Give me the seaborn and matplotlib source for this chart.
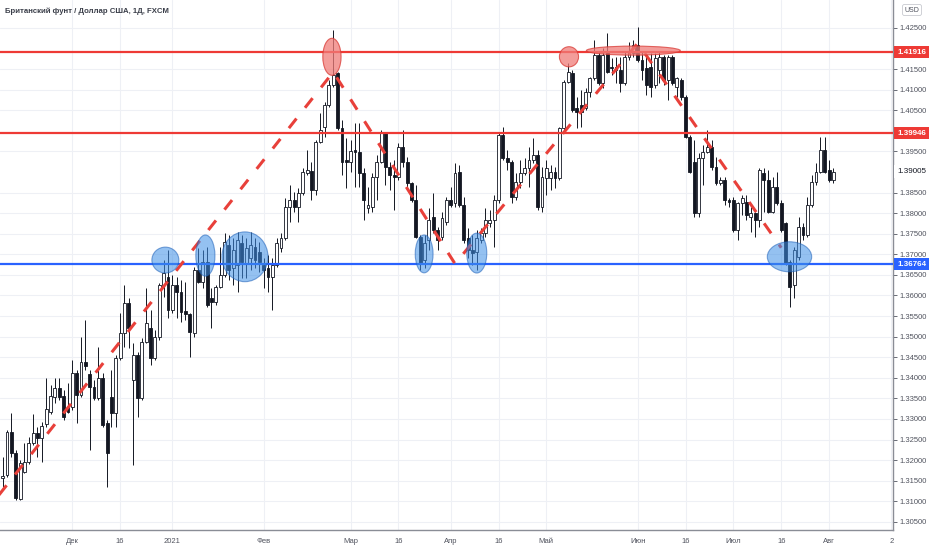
import numpy as np
import pandas as pd
import matplotlib
matplotlib.use("Agg")
import matplotlib.pyplot as plt
import matplotlib.transforms as mtransforms
from matplotlib.patches import Ellipse
import seaborn as sns

# --- data (GBP/USD daily, FXCM) ---
title = "Британский фунт / Доллар США, 1Д, FXCM"
start_date = "2020-11-09"

opens = [
    1.3157, 1.3164, 1.3268, 1.3217, 1.3105, 1.3171, 1.3195, 1.3242, 1.3266, 1.3254, 1.3288, 1.3317,
    1.3353, 1.3375, 1.3356, 1.3329, 1.3329, 1.3412, 1.3358, 1.3438, 1.3409, 1.3378, 1.3351, 1.3399,
    1.3290, 1.3353, 1.3314, 1.3448, 1.3509, 1.3582, 1.3395, 1.3455, 1.3351, 1.3487, 1.3521, 1.3448,
    1.3499, 1.3625, 1.3645, 1.3565, 1.3625, 1.3608, 1.3562, 1.3555, 1.3509, 1.3662, 1.3633, 1.3681,
    1.3594, 1.3584, 1.3621, 1.3650, 1.3723, 1.3667, 1.3674, 1.3728, 1.3679, 1.3691, 1.3718, 1.3706,
    1.3674, 1.3667, 1.3645, 1.3674, 1.3715, 1.3740, 1.3815, 1.3832, 1.3815, 1.3849, 1.3898, 1.3902,
    1.3856, 1.3973, 1.4009, 1.4063, 1.4111, 1.4141, 1.4007, 1.3929, 1.3924, 1.3953, 1.3949, 1.3898,
    1.3813, 1.3815, 1.3888, 1.3924, 1.3995, 1.3912, 1.3893, 1.3888, 1.3961, 1.3924, 1.3873, 1.3832,
    1.3742, 1.3686, 1.3735, 1.3791, 1.3759, 1.3742, 1.3779, 1.3832, 1.3825, 1.3900, 1.3820, 1.3740,
    1.3711, 1.3706, 1.3735, 1.3752, 1.3776, 1.3783, 1.3832, 1.3990, 1.3934, 1.3924, 1.3839, 1.3876,
    1.3898, 1.3910, 1.3929, 1.3941, 1.3815, 1.3885, 1.3885, 1.3900, 1.3885, 1.4007, 1.4119, 1.4141,
    1.4056, 1.4063, 1.4056, 1.4094, 1.4128, 1.4184, 1.4116, 1.4192, 1.4155, 1.4155, 1.4148, 1.4116,
    1.4179, 1.4189, 1.4209, 1.4172, 1.4153, 1.4155, 1.4111, 1.4148, 1.4179, 1.4124, 1.4179, 1.4107,
    1.4124, 1.4082, 1.3985, 1.3924, 1.3800, 1.3934, 1.3949, 1.3961, 1.3912, 1.3873, 1.3881, 1.3832,
    1.3832, 1.3759, 1.3825, 1.3827, 1.3791, 1.3800, 1.3783, 1.3898, 1.3881, 1.3803, 1.3864, 1.3825,
    1.3776, 1.3681, 1.3625, 1.3694, 1.3766, 1.3747, 1.3820, 1.3876, 1.3900, 1.3954, 1.3905, 1.3881,
]
highs = [
    1.3207, 1.3273, 1.3314, 1.3225, 1.3200, 1.3242, 1.3256, 1.3312, 1.3280, 1.3293, 1.3399, 1.3382,
    1.3399, 1.3399, 1.3370, 1.3387, 1.3443, 1.3419, 1.3499, 1.3540, 1.3419, 1.3395, 1.3475, 1.3412,
    1.3297, 1.3419, 1.3455, 1.3557, 1.3625, 1.3594, 1.3485, 1.3463, 1.3497, 1.3618, 1.3565, 1.3516,
    1.3630, 1.3686, 1.3711, 1.3650, 1.3645, 1.3638, 1.3633, 1.3557, 1.3669, 1.3715, 1.3711, 1.3718,
    1.3618, 1.3625, 1.3718, 1.3752, 1.3747, 1.3740, 1.3754, 1.3747, 1.3740, 1.3754, 1.3740, 1.3730,
    1.3691, 1.3698, 1.3691, 1.3740, 1.3752, 1.3837, 1.3868, 1.3851, 1.3861, 1.3910, 1.3953, 1.3924,
    1.3978, 1.4043, 1.4070, 1.4124, 1.4245, 1.4143, 1.4026, 1.3983, 1.3978, 1.4019, 1.4019, 1.3910,
    1.3864, 1.3898, 1.3941, 1.4002, 1.3997, 1.3924, 1.3929, 1.3971, 1.4002, 1.3937, 1.3876, 1.3868,
    1.3747, 1.3747, 1.3813, 1.3849, 1.3766, 1.3803, 1.3839, 1.3864, 1.3922, 1.3917, 1.3839, 1.3764,
    1.3747, 1.3759, 1.3764, 1.3813, 1.3808, 1.3844, 1.3995, 1.4009, 1.3953, 1.3929, 1.3898, 1.3929,
    1.3934, 1.3961, 1.3983, 1.3953, 1.3912, 1.3929, 1.3917, 1.3912, 1.4009, 1.4124, 1.4165, 1.4148,
    1.4082, 1.4099, 1.4104, 1.4131, 1.4221, 1.4192, 1.4201, 1.4238, 1.4177, 1.4179, 1.4179, 1.4192,
    1.4216, 1.4221, 1.4252, 1.4192, 1.4184, 1.4189, 1.4189, 1.4192, 1.4184, 1.4184, 1.4184, 1.4131,
    1.4128, 1.4087, 1.3990, 1.3978, 1.3946, 1.3966, 1.4002, 1.3978, 1.3937, 1.3888, 1.3888, 1.3837,
    1.3839, 1.3827, 1.3844, 1.3844, 1.3815, 1.3803, 1.3910, 1.3910, 1.3905, 1.3888, 1.3900, 1.3832,
    1.3779, 1.3686, 1.3718, 1.3791, 1.3776, 1.3839, 1.3893, 1.3922, 1.3985, 1.3985, 1.3929, 1.3910,
]
lows = [
    1.3135, 1.3159, 1.3207, 1.3103, 1.3103, 1.3169, 1.3190, 1.3237, 1.3207, 1.3195, 1.3280, 1.3312,
    1.3339, 1.3346, 1.3297, 1.3314, 1.3322, 1.3290, 1.3353, 1.3419, 1.3225, 1.3346, 1.3346, 1.3280,
    1.3135, 1.3280, 1.3280, 1.3443, 1.3475, 1.3472, 1.3188, 1.3305, 1.3346, 1.3485, 1.3431, 1.3443,
    1.3492, 1.3596, 1.3545, 1.3557, 1.3545, 1.3536, 1.3540, 1.3450, 1.3499, 1.3630, 1.3618, 1.3572,
    1.3521, 1.3577, 1.3618, 1.3645, 1.3638, 1.3625, 1.3608, 1.3642, 1.3642, 1.3662, 1.3667, 1.3657,
    1.3618, 1.3608, 1.3565, 1.3669, 1.3706, 1.3735, 1.3779, 1.3803, 1.3779, 1.3844, 1.3893, 1.3832,
    1.3844, 1.3971, 1.3985, 1.4058, 1.4107, 1.4002, 1.3893, 1.3861, 1.3900, 1.3864, 1.3864, 1.3783,
    1.3800, 1.3803, 1.3832, 1.3922, 1.3868, 1.3856, 1.3808, 1.3881, 1.3912, 1.3861, 1.3827, 1.3740,
    1.3662, 1.3667, 1.3711, 1.3752, 1.3711, 1.3735, 1.3771, 1.3815, 1.3815, 1.3815, 1.3728, 1.3691,
    1.3674, 1.3662, 1.3728, 1.3742, 1.3766, 1.3718, 1.3825, 1.3929, 1.3905, 1.3825, 1.3832, 1.3861,
    1.3893, 1.3864, 1.3922, 1.3808, 1.3803, 1.3844, 1.3856, 1.3861, 1.3881, 1.4002, 1.4116, 1.4046,
    1.4007, 1.4009, 1.4051, 1.4082, 1.4124, 1.4111, 1.4104, 1.4141, 1.4136, 1.4116, 1.4094, 1.4111,
    1.4172, 1.4179, 1.4167, 1.4124, 1.4087, 1.4082, 1.4104, 1.4116, 1.4111, 1.4075, 1.4111, 1.4082,
    1.4075, 1.3983, 1.3898, 1.3791, 1.3791, 1.3868, 1.3946, 1.3905, 1.3868, 1.3868, 1.3820, 1.3815,
    1.3754, 1.3735, 1.3796, 1.3783, 1.3754, 1.3742, 1.3766, 1.3803, 1.3800, 1.3800, 1.3820, 1.3754,
    1.3674, 1.3572, 1.3594, 1.3686, 1.3735, 1.3742, 1.3815, 1.3868, 1.3898, 1.3898, 1.3876, 1.3873,
]
closes = [
    1.3161, 1.3268, 1.3217, 1.3108, 1.3193, 1.3195, 1.3242, 1.3266, 1.3254, 1.3283, 1.3324, 1.3356,
    1.3375, 1.3353, 1.3305, 1.3317, 1.3412, 1.3358, 1.3438, 1.3429, 1.3378, 1.3351, 1.3399, 1.3285,
    1.3217, 1.3314, 1.3448, 1.3509, 1.3582, 1.3521, 1.3455, 1.3351, 1.3487, 1.3533, 1.3448, 1.3499,
    1.3625, 1.3655, 1.3565, 1.3625, 1.3608, 1.3560, 1.3555, 1.3511, 1.3662, 1.3633, 1.3681, 1.3577,
    1.3584, 1.3621, 1.3650, 1.3730, 1.3662, 1.3711, 1.3735, 1.3681, 1.3715, 1.3723, 1.3686, 1.3681,
    1.3662, 1.3645, 1.3674, 1.3728, 1.3740, 1.3815, 1.3832, 1.3815, 1.3849, 1.3900, 1.3905, 1.3856,
    1.3973, 1.4002, 1.4063, 1.4111, 1.4136, 1.4007, 1.3924, 1.3924, 1.3951, 1.3949, 1.3898, 1.3832,
    1.3820, 1.3888, 1.3924, 1.3995, 1.3912, 1.3893, 1.3888, 1.3961, 1.3924, 1.3873, 1.3832, 1.3742,
    1.3679, 1.3728, 1.3783, 1.3759, 1.3735, 1.3788, 1.3832, 1.3820, 1.3898, 1.3820, 1.3735, 1.3711,
    1.3703, 1.3740, 1.3752, 1.3783, 1.3783, 1.3832, 1.3990, 1.3934, 1.3924, 1.3839, 1.3876, 1.3898,
    1.3910, 1.3929, 1.3941, 1.3815, 1.3888, 1.3910, 1.3900, 1.3885, 1.4007, 1.4119, 1.4143, 1.4051,
    1.4046, 1.4046, 1.4094, 1.4128, 1.4184, 1.4116, 1.4184, 1.4143, 1.4153, 1.4148, 1.4116, 1.4179,
    1.4192, 1.4209, 1.4172, 1.4148, 1.4111, 1.4107, 1.4177, 1.4179, 1.4124, 1.4179, 1.4116, 1.4128,
    1.4082, 1.3985, 1.3900, 1.3800, 1.3934, 1.3949, 1.3961, 1.3912, 1.3873, 1.3881, 1.3832, 1.3827,
    1.3759, 1.3825, 1.3837, 1.3796, 1.3800, 1.3783, 1.3905, 1.3881, 1.3803, 1.3864, 1.3825, 1.3759,
    1.3679, 1.3621, 1.3711, 1.3766, 1.3747, 1.3820, 1.3876, 1.3900, 1.3954, 1.3900, 1.3881, 1.3901,
]

tick_dates = ["2020-12-01", "2020-12-16", "2021-01-01", "2021-02-01", "2021-03-01", "2021-03-16",
              "2021-04-01", "2021-04-16", "2021-05-03", "2021-06-01", "2021-06-16", "2021-07-01",
              "2021-07-16", "2021-08-02"]
tick_labels = ["Дек", "16", "2021", "Фев", "Мар", "16", "Апр", "16", "Май", "Июн", "16", "Июл", "16", "Авг"]

# price scale labels (values hidden behind the level badges are left out)
price_ticks = [1.305, 1.310, 1.315, 1.320, 1.325, 1.330, 1.335, 1.340, 1.345, 1.350, 1.355,
               1.360, 1.365, 1.370, 1.375, 1.380, 1.385, 1.395, 1.405, 1.410, 1.415, 1.425]

red_levels = [1.41916, 1.39946]
blue_level = 1.36764
last_price = 1.39005

# hand-drawn zigzag (bar index, price)
zigzag_bar = [-2, 76, 104, 146, 179]
zigzag_price = [1.3100, 1.4143, 1.3677, 1.4213, 1.3716]

# marked areas: centre bar, centre price, width (bars), height (price)
blue_bar = [37.4, 46.6, 55.7, 96.9, 109.0, 180.9]
blue_price = [1.3686, 1.3697, 1.3694, 1.3701, 1.3703, 1.3694]
blue_w = [6.2, 4.4, 10.6, 4.1, 4.6, 10.2]
blue_h = [0.0063, 0.0100, 0.0121, 0.0092, 0.0097, 0.0073]
red_bar = [75.7, 130.2, 145.0]
red_price = [1.4180, 1.4180, 1.4195]
red_w = [4.2, 4.4, 21.6]
red_h = [0.0090, 0.0049, 0.0022]

# --- build frame ---
df = pd.DataFrame({"open": opens, "high": highs, "low": lows, "close": closes})
df["date"] = pd.bdate_range(start_date, periods=len(df))
df["bar"] = np.arange(len(df))
df["up"] = df["close"] >= df["open"]

tick_pos = [float(np.searchsorted(df["date"].values, np.datetime64(d))) for d in tick_dates]

sns.set_style("white")
plt.rcParams["font.family"] = ["Liberation Sans", "DejaVu Sans"]

RED = "#ee3a35"
BLUE = "#2962ff"
INK = "#131722"

fig = plt.figure(figsize=(9.32, 5.5), dpi=100)
ax = fig.add_axes([0, 20 / 550, 893 / 932, 530 / 550])

# grid
ax.set_axisbelow(True)
ax.grid(True, color="#eef0f5", linewidth=0.8)

# candles
ax.vlines(df["bar"], df["low"], df["high"], color=INK, linewidth=0.7, zorder=2)
body_lo = np.minimum(df["open"], df["close"])
body_h = np.maximum(np.abs(df["close"] - df["open"]), 0.00012)
face = np.where(df["up"], "white", INK)
ax.bar(df["bar"], body_h, bottom=body_lo, width=0.66, color=face,
       edgecolor=INK, linewidth=0.6, zorder=3)

# levels
for lv in red_levels:
    ax.axhline(lv, color=RED, linewidth=1.6, zorder=4)
ax.axhline(blue_level, color=BLUE, linewidth=1.6, zorder=4)

# zigzag
zz = pd.DataFrame({"bar": zigzag_bar, "price": zigzag_price})
sns.lineplot(data=zz, x="bar", y="price", ax=ax, color="#e8403a", linewidth=2.2,
             zorder=4, sort=False)
ax.lines[-1].set_dashes((4, 4.5))

# marked zones
for x, y, w, h in zip(blue_bar, blue_price, blue_w, blue_h):
    ax.add_patch(Ellipse((x, y), w, h, facecolor="#3d8fe6", alpha=0.55,
                         edgecolor="#1c5fb8", linewidth=0.8, zorder=5))
for x, y, w, h in zip(red_bar, red_price, red_w, red_h):
    ax.add_patch(Ellipse((x, y), w, h, facecolor="#f07c78", alpha=0.75,
                         edgecolor="#d93a35", linewidth=0.8, zorder=5))

# axes styling
ax.set_xlim(-0.62, 204.7)
ax.set_ylim(1.30301, 1.4318)
ax.yaxis.tick_right()
ax.set_yticks(price_ticks)
ax.set_yticklabels([f"{v:.5f}" for v in price_ticks])
ax.set_xticks(tick_pos + [204.3])
ax.set_xticklabels(tick_labels + ["2"])
ax.tick_params(axis="both", labelsize=5.5, colors="#50535e", length=3, width=0.6, pad=2)
ax.tick_params(axis="x", pad=3)
ax.set_xlabel("")
ax.set_ylabel("")
for side in ["top", "left"]:
    ax.spines[side].set_visible(False)
for side in ["right", "bottom"]:
    ax.spines[side].set_color("#8a8d96")
    ax.spines[side].set_linewidth(1.0)

# price labels on the scale
trans = mtransforms.blended_transform_factory(ax.transAxes, ax.transData)
for lv, col in [(red_levels[0], RED), (red_levels[1], RED), (blue_level, BLUE)]:
    ax.text(1.0045, lv, f"{lv:.5f}", transform=trans, ha="left", va="center",
            fontsize=5.8, fontweight="bold", color="white", clip_on=False, zorder=10,
            bbox=dict(boxstyle="square,pad=0.35", facecolor=col, edgecolor="none"))
ax.text(1.0045, last_price, f"{last_price:.5f}", transform=trans, ha="left", va="center",
        fontsize=5.8, color=INK, clip_on=False, zorder=10,
        bbox=dict(boxstyle="square,pad=0.35", facecolor="white", edgecolor="none"))

# title and currency badge
fig.text(5 / 932, 1 - 11 / 550, title, fontsize=5.6, color="#3a3e49", ha="left", va="center",
         fontweight="bold")
fig.text(912 / 932, 1 - 10 / 550, "USD", fontsize=5, color="#50535e", ha="center", va="center",
         bbox=dict(boxstyle="round,pad=0.3", facecolor="white", edgecolor="#c8cad0", linewidth=0.6))

fig.savefig("out.png", dpi=100)
